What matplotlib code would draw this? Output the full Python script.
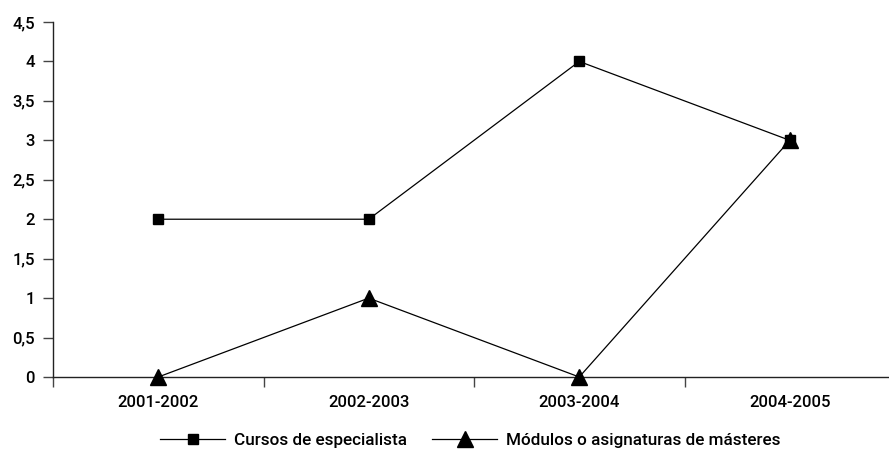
import matplotlib.pyplot as plt
from matplotlib.ticker import FixedLocator, FuncFormatter

# Data
years = ['2001-2002', '2002-2003', '2003-2004', '2004-2005']
cursos = [2, 2, 4, 3]
modulos = [0, 1, 0, 3]

plt.rcParams['font.family'] = ['Roboto', 'DejaVu Sans']
plt.rcParams['font.weight'] = 'medium'

W, H = 889, 457
fig = plt.figure(figsize=(W / 100, H / 100), dpi=100)
# plot area in pixels: left 53, right 895, top 22, bottom 377
ax = fig.add_axes([53 / W, (H - 377) / H, (895 - 53) / W, (377 - 22) / H])

x = list(range(len(years)))
ax.plot(x, cursos, color='black', lw=0.9, marker='s', markersize=7,
        label='Cursos de especialista', clip_on=False)
ax.plot(x, modulos, color='black', lw=0.9, marker='^', markersize=11,
        label='Módulos o asignaturas de másteres', clip_on=False, zorder=3)

ax.set_xlim(-0.5, len(years) - 0.5)
ax.set_ylim(0, 4.5)
ax.set_yticks([i * 0.5 for i in range(10)])
ax.yaxis.set_major_formatter(FuncFormatter(lambda v, p: ('%g' % v).replace('.', ',')))
ax.set_xticks(x)
ax.set_xticklabels(years)
ax.xaxis.set_minor_locator(FixedLocator([i - 0.5 for i in range(len(years) + 1)]))

for s in ['top', 'right']:
    ax.spines[s].set_visible(False)
for s in ['left', 'bottom']:
    ax.spines[s].set_linewidth(1.0)
    ax.spines[s].set_color('#222222')

ax.tick_params(axis='y', length=7, width=1, color='#444444', labelsize=12, pad=6)
ax.tick_params(axis='x', which='major', length=0, labelsize=12, pad=13)
ax.tick_params(axis='x', which='minor', length=7, width=1, color='#444444')

leg = fig.legend(loc='center', bbox_to_anchor=(0.529, 0.037), ncol=2, frameon=False,
                 fontsize=12.3, handlelength=3.8, handletextpad=0.5, columnspacing=1.5)

fig.savefig('out.png', dpi=100)
